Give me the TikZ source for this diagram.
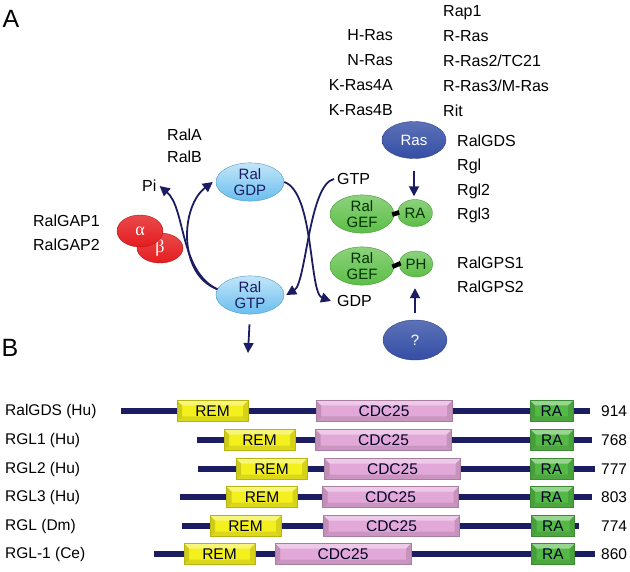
\documentclass[tikz,border=0pt]{standalone}
\usepackage{fontspec}
\setmainfont{Liberation Sans}
\newfontfamily\grk{Liberation Serif}
\usetikzlibrary{arrows.meta, shapes.geometric, positioning}
\definecolor{navy}{RGB}{28,28,98}
\definecolor{ralblue}{RGB}{105,190,238}
\definecolor{rasblue}{RGB}{52,78,165}
\definecolor{gefgreen}{RGB}{92,190,70}
\definecolor{gapred}{RGB}{228,28,30}
\definecolor{remyellow}{RGB}{244,240,30}
\definecolor{cdcpink}{RGB}{226,168,216}
\definecolor{ragreen}{RGB}{84,186,70}
\newcommand{\fA}{\fontsize{16}{24}\selectfont}
\newcommand{\fB}{\fontsize{15.5}{18}\selectfont}
\newcommand{\fE}{\fontsize{15}{16}\selectfont}

\begin{document}
\begin{tikzpicture}[x=1pt, y=-1pt,
    txt/.style={inner sep=0pt, font=\fA},
    prot/.style={ellipse, inner sep=0pt, align=center, font=\fE},
    ral/.style={prot, minimum width=68pt, minimum height=38pt, text=navy,
      draw=ralblue!80!black, top color=ralblue!40!white, bottom color=ralblue},
    gef/.style={prot, minimum width=64pt, minimum height=38pt, text=black!80!green,
      draw=gefgreen!80!black, top color=gefgreen!70!white, bottom color=gefgreen},
    gefdom/.style={gef, minimum width=35pt, minimum height=27pt},
    rasel/.style={prot, minimum width=64pt, minimum height=37pt, text=white,
      draw=rasblue!80!black, top color=rasblue!80!white, bottom color=rasblue},
    gap/.style={prot, minimum width=46pt, minimum height=32pt, text=white,
      draw=gapred!80!black, top color=gapred!80!white, bottom color=gapred,
      font=\grk\fontsize{18}{18}\selectfont},
    cyc/.style={navy, line width=1.8pt, -{Triangle[length=10pt,width=10pt]}},
    backbone/.style={navy, line width=6pt},
    dombox/.style={rectangle, minimum height=21pt, inner sep=0pt, font=\fB, text=black!85!blue,
      path picture={
        \fill[black, opacity=.15] (path picture bounding box.south west) -- (path picture bounding box.north west)
          -- ([shift={(5pt,-5pt)}]path picture bounding box.north west) -- ([shift={(5pt,5pt)}]path picture bounding box.south west) -- cycle;
        \fill[black, opacity=.12] (path picture bounding box.south east) -- (path picture bounding box.north east)
          -- ([shift={(-5pt,-5pt)}]path picture bounding box.north east) -- ([shift={(-5pt,5pt)}]path picture bounding box.south east) -- cycle;
        \fill[white, opacity=.4] (path picture bounding box.north west) -- (path picture bounding box.north east)
          -- ([shift={(-5pt,-5pt)}]path picture bounding box.north east) -- ([shift={(5pt,-5pt)}]path picture bounding box.north west) -- cycle;
        \fill[black, opacity=.1] (path picture bounding box.south west) -- (path picture bounding box.south east)
          -- ([shift={(-5pt,5pt)}]path picture bounding box.south east) -- ([shift={(5pt,5pt)}]path picture bounding box.south west) -- cycle;
      }},
    rem/.style={dombox, fill=remyellow, draw=remyellow!75!black, minimum width=71pt},
    cdc/.style={dombox, fill=cdcpink, draw=cdcpink!75!black, minimum width=136pt},
    radom/.style={dombox, fill=ragreen, draw=ragreen!75!black, minimum width=43pt},
    rowlab/.style={anchor=west, inner sep=0pt, font=\fB},
    len/.style={anchor=west, inner sep=0pt, font=\fB}]
    \useasboundingbox (0,0) rectangle (630,572);

    % Panel letters
    \node[inner sep=0pt, font=\fontsize{25}{25}\selectfont] (panA) at (11,19) {A};
    \node[inner sep=0pt, font=\fontsize{25}{25}\selectfont] (panB) at (10,348) {B};

    % Ral cycle
    \node[ral] (gdp) at (250,182) {Ral\\GDP};
    \node[ral] (gtp) at (250,295) {Ral\\GTP};
    \node[txt, anchor=west, align=left, font=\fontsize{16}{22}\selectfont] (ralab) at (167,146) {RalA\\RalB};
    \node[txt, anchor=west] (pi) at (142,186) {Pi};
    \node[txt, anchor=west] (gtptxt) at (337,179) {GTP};
    \node[txt, anchor=west] (gdptxt) at (337,301) {GDP};
    \coordinate (down) at (248,353);

    % GAP complex
    \node[gap, minimum height=30pt] (beta) at (160,248) {β};
    \node[gap] (alpha) at (140,231) {α};
    \node[txt, anchor=east, align=left] (gaplab) at (100,233) {RalGAP1\\RalGAP2};

    % GEFs and their regulators
    \node[rasel] (ras) at (414,140) {Ras};
    \node[gef] (gefa) at (362,214) {Ral\\GEF};
    \node[gefdom] (raA) at (415,213) {RA};
    \node[gef] (gefb) at (362,266) {Ral\\GEF};
    \node[gefdom, minimum width=34pt, minimum height=26pt] (ph) at (416,264) {PH};
    \node[rasel, minimum height=40pt] (unk) at (415,340) {?};
    \draw[line width=4.5pt, shorten <=-2pt, shorten >=-2pt] (gefa.east) -- (raA.west);
    \draw[line width=4.5pt, shorten <=-2pt, shorten >=-2pt] (gefb.east) -- (ph.west);

    % Ras family lists
    \node[txt, anchor=east, align=right, font=\fontsize{16}{25}\selectfont] (hras) at (393,73) {H-Ras\\N-Ras\\K-Ras4A\\K-Ras4B};
    \node[txt, anchor=west, align=left, font=\fontsize{16}{25}\selectfont] (rap) at (443,61) {Rap1\\R-Ras\\R-Ras2/TC21\\R-Ras3/M-Ras\\Rit};
    \node[txt, anchor=west, align=left, font=\fontsize{16}{24.5}\selectfont] (rgl) at (457,179) {RalGDS\\Rgl\\Rgl2\\Rgl3};
    \node[txt, anchor=west, align=left] (gps) at (457,275) {RalGPS1\\RalGPS2};

    % Arrows
    \draw[cyc] (gtp.170) .. controls +(-40,-15) and +(-32,24) .. ([xshift=-3pt]gdp.west);
    \draw[cyc] (gtp.170) .. controls +(-38,-18) and +(26,22) .. ([xshift=3pt]pi.east);
    \draw[cyc] (gdp.east) .. controls +(30,10) and +(-22,-8) .. ([xshift=-6pt]gdptxt.west);
    \draw[cyc] ([xshift=-3pt]gtptxt.west) .. controls +(-25,5) and +(20,-12) .. ([xshift=2pt]gtp.east);
    \draw[cyc, shorten <=10pt] (gtp.south) -- (down);
    \draw[cyc, shorten <=12pt, shorten >=3pt] (ras.south) -- (ras.south |- raA.north);
    \draw[cyc, shorten <=7pt, shorten >=11pt] (unk.north) -- (unk.north |- ph.south);

    % RalGDS (Hu)
    \node[rowlab] (n1) at (5,411) {RalGDS (Hu)};
    \coordinate (s1) at (121,411); \coordinate (e1) at (590,411);
    \draw[backbone] (s1) -- (e1);
    \node[rem] (rem1) at (212.5,411) {REM};
    \node[cdc] (cdc1) at (384,411) {CDC25};
    \node[radom] (rad1) at (551.5,411) {RA};
    \node[len] (l1) at (601,411) {914};

    % RGL1 (Hu)
    \node[rowlab] (n2) at (5,440) {RGL1 (Hu)};
    \coordinate (s2) at (197,440); \coordinate (e2) at (592,440);
    \draw[backbone] (s2) -- (e2);
    \node[rem] (rem2) at (259.5,440) {REM};
    \node[cdc] (cdc2) at (383.5,440) {CDC25};
    \node[radom] (rad2) at (552,440) {RA};
    \node[len] (l2) at (601,440) {768};

    % RGL2 (Hu)
    \node[rowlab] (n3) at (5,469) {RGL2 (Hu)};
    \coordinate (s3) at (198,469); \coordinate (e3) at (595,469);
    \draw[backbone] (s3) -- (e3);
    \node[rem] (rem3) at (271.5,469) {REM};
    \node[cdc] (cdc3) at (392.5,469) {CDC25};
    \node[radom] (rad3) at (551.5,469) {RA};
    \node[len] (l3) at (601,469) {777};

    % RGL3 (Hu)
    \node[rowlab] (n4) at (5,497) {RGL3 (Hu)};
    \coordinate (s4) at (180,497); \coordinate (e4) at (592,497);
    \draw[backbone] (s4) -- (e4);
    \node[rem] (rem4) at (262,497) {REM};
    \node[cdc] (cdc4) at (390.5,497) {CDC25};
    \node[radom] (rad4) at (551.5,497) {RA};
    \node[len] (l4) at (601,497) {803};

    % RGL (Dm)
    \node[rowlab] (n5) at (5,526) {RGL (Dm)};
    \coordinate (s5) at (182,526); \coordinate (e5) at (579,526);
    \draw[backbone] (s5) -- (e5);
    \node[rem] (rem5) at (245.5,526) {REM};
    \node[cdc] (cdc5) at (391.5,526) {CDC25};
    \node[radom] (rad5) at (553,526) {RA};
    \node[len] (l5) at (601,526) {774};

    % RGL-1 (Ce)
    \node[rowlab] (n6) at (5,554) {RGL-1 (Ce)};
    \coordinate (s6) at (154,554); \coordinate (e6) at (595,554);
    \draw[backbone] (s6) -- (e6);
    \node[rem] (rem6) at (219.5,554) {REM};
    \node[cdc] (cdc6) at (343,554) {CDC25};
    \node[radom] (rad6) at (553,554) {RA};
    \node[len] (l6) at (601,554) {860};
\end{tikzpicture}
\end{document}
